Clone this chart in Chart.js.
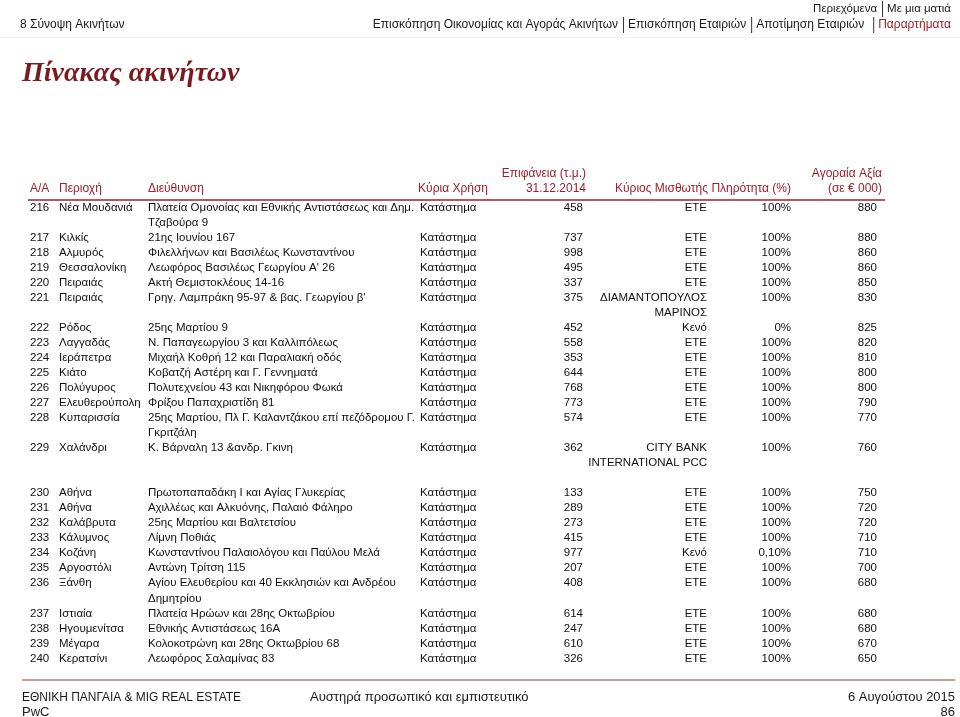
<!DOCTYPE html>
<html>
<head>
<meta charset="utf-8">
<script src="https://cdn.jsdelivr.net/npm/chart.js@4.4.0/dist/chart.umd.min.js"></script>
<style>
  html, body { margin: 0; padding: 0; background: #fff; }
  canvas { display: block; }
</style>
</head>
<body>
<canvas id="chartContainer" width="960" height="717"></canvas>
<script>
// table data, one entry per property
const ids = [216, 217, 218, 219, 220, 221, 222, 223, 224, 225, 226, 227, 228, 229, 230, 231, 232, 233, 234, 235, 236, 237, 238, 239, 240];
const areas = ['Νέα Μουδανιά', 'Κιλκίς', 'Αλμυρός', 'Θεσσαλονίκη', 'Πειραιάς', 'Πειραιάς', 'Ρόδος', 'Λαγγαδάς', 'Ιεράπετρα', 'Κιάτο',
  'Πολύγυρος', 'Ελευθερούπολη', 'Κυπαρισσία', 'Χαλάνδρι', 'Αθήνα', 'Αθήνα', 'Καλάβρυτα', 'Κάλυμνος', 'Κοζάνη', 'Αργοστόλι',
  'Ξάνθη', 'Ιστιαία', 'Ηγουμενίτσα', 'Μέγαρα', 'Κερατσίνι'];
const addresses = [
  'Πλατεία Ομονοίας και Εθνικής Αντιστάσεως και Δημ.\nΤζαβούρα 9',
  '21ης Ιουνίου 167',
  'Φιλελλήνων και Βασιλέως Κωνσταντίνου',
  "Λεωφόρος Βασιλέως Γεωργίου Α' 26",
  'Ακτή Θεμιστοκλέους 14-16',
  "Γρηγ. Λαμπράκη 95-97 & βας. Γεωργίου β'",
  '25ης Μαρτίου 9',
  'Ν. Παπαγεωργίου 3 και Καλλιπόλεως',
  'Μιχαήλ Κοθρή 12 και Παραλιακή οδός',
  'Κοβατζή Αστέρη και Γ. Γεννηματά',
  'Πολυτεχνείου 43 και Νικηφόρου Φωκά',
  'Φρίξου Παπαχριστίδη 81',
  '25ης Μαρτίου, Πλ Γ. Καλαντζάκου επί πεζόδρομου Γ.\nΓκριτζάλη',
  'Κ. Βάρναλη 13 &ανδρ. Γκινη',
  'Πρωτοπαπαδάκη Ι και Αγίας Γλυκερίας',
  'Αχιλλέως και Αλκυόνης, Παλαιό Φάληρο',
  '25ης Μαρτίου και Βαλτετσίου',
  'Λίμνη Ποθιάς',
  'Κωνσταντίνου Παλαιολόγου και Παύλου Μελά',
  'Αντώνη Τρίτση 115',
  'Αγίου Ελευθερίου και 40 Εκκλησιών και Ανδρέου\nΔημητρίου',
  'Πλατεία Ηρώων και 28ης Οκτωβρίου',
  'Εθνικής Αντιστάσεως 16Α',
  'Κολοκοτρώνη και 28ης Οκτωβρίου 68',
  'Λεωφόρος Σαλαμίνας 83'
];
const uses = ['Κατάστημα', 'Κατάστημα', 'Κατάστημα', 'Κατάστημα', 'Κατάστημα', 'Κατάστημα', 'Κατάστημα', 'Κατάστημα', 'Κατάστημα',
  'Κατάστημα', 'Κατάστημα', 'Κατάστημα', 'Κατάστημα', 'Κατάστημα', 'Κατάστημα', 'Κατάστημα', 'Κατάστημα', 'Κατάστημα',
  'Κατάστημα', 'Κατάστημα', 'Κατάστημα', 'Κατάστημα', 'Κατάστημα', 'Κατάστημα', 'Κατάστημα'];
const surfaces = [458, 737, 998, 495, 337, 375, 452, 558, 353, 644, 768, 773, 574, 362, 133, 289, 273, 415, 977, 207, 408, 614, 247, 610, 326];
const tenants = ['ΕΤΕ', 'ΕΤΕ', 'ΕΤΕ', 'ΕΤΕ', 'ΕΤΕ', 'ΔΙΑΜΑΝΤΟΠΟΥΛΟΣ\nΜΑΡΙΝΟΣ', 'Κενό', 'ΕΤΕ', 'ΕΤΕ', 'ΕΤΕ', 'ΕΤΕ', 'ΕΤΕ', 'ΕΤΕ',
  'CITY BANK\nINTERNATIONAL PCC', 'ΕΤΕ', 'ΕΤΕ', 'ΕΤΕ', 'ΕΤΕ', 'Κενό', 'ΕΤΕ', 'ΕΤΕ', 'ΕΤΕ', 'ΕΤΕ', 'ΕΤΕ', 'ΕΤΕ'];
const occupancy = ['100%', '100%', '100%', '100%', '100%', '100%', '0%', '100%', '100%', '100%', '100%', '100%', '100%',
  '100%', '100%', '100%', '100%', '100%', '0,10%', '100%', '100%', '100%', '100%', '100%', '100%'];
const marketValues = [880, 880, 860, 860, 850, 830, 825, 820, 810, 800, 800, 790, 770, 760, 750, 720, 720, 710, 710, 700, 680, 680, 680, 670, 650];

// an empty line is left after this row (page break in the source)
const breakAfter = [229];

const RED = '#9c1f2c';
const DARKRED = '#7a1a1f';
const FONT = '"Liberation Sans", Arial, sans-serif';

// line index of every row
const lineIdx = [];
let line = 0;
ids.forEach((id, i) => {
  lineIdx.push(line);
  const n = Math.max(addresses[i].split('\n').length, tenants[i].split('\n').length);
  line += n;
  if (breakAfter.includes(id)) line += 1;
});
const totalLines = line;

const columns = [
  { label: 'A/A', x: 30, align: 'left', texts: ids.map(String) },
  { label: 'Περιοχή', x: 59, align: 'left', texts: areas },
  { label: 'Διεύθυνση', x: 148, align: 'left', texts: addresses },
  { label: 'Κύρια Χρήση', x: 420, align: 'left', texts: uses },
  { label: 'Επιφάνεια', x: 583, align: 'right', texts: surfaces.map(String) },
  { label: 'Κύριος Μισθωτής', x: 707, align: 'right', texts: tenants },
  { label: 'Πληρότητα', x: 791, align: 'right', texts: occupancy },
  { label: 'Αγοραία Αξία', x: 877, align: 'right', texts: marketValues.map(String) }
];

const headers = [
  { x: 30, align: 'left', lines: ['', 'A/A'] },
  { x: 59, align: 'left', lines: ['', 'Περιοχή'] },
  { x: 148, align: 'left', lines: ['', 'Διεύθυνση'] },
  { x: 488, align: 'right', lines: ['', 'Κύρια Χρήση'] },
  { x: 586, align: 'right', lines: ['Επιφάνεια (τ.μ.)', '31.12.2014'] },
  { x: 708, align: 'right', lines: ['', 'Κύριος Μισθωτής'] },
  { x: 791, align: 'right', lines: ['', 'Πληρότητα (%)'] },
  { x: 882, align: 'right', lines: ['Αγοραία Αξία', '(σε € 000)'] }
];

const cellText = {
  id: 'cellText',
  afterDatasetsDraw(chart) {
    const ctx = chart.ctx;
    const y = chart.scales.y;
    const step = y.getPixelForValue(1) - y.getPixelForValue(0);
    ctx.save();
    ctx.font = '11.5px ' + FONT;
    ctx.fillStyle = '#111';
    ctx.textBaseline = 'middle';
    chart.data.datasets.forEach((ds, di) => {
      const meta = chart.getDatasetMeta(di);
      ctx.textAlign = ds.align;
      meta.data.forEach((el, i) => {
        ds.texts[i].split('\n').forEach((t, k) => {
          ctx.fillText(t, el.x, el.y + k * step);
        });
      });
    });
    ctx.restore();
  }
};

function navLine(ctx, items, right, y) {
  let x = right;
  for (let i = items.length - 1; i >= 0; i--) {
    ctx.fillStyle = items[i].color || '#1a1a1a';
    ctx.fillText(items[i].t, x, y);
    x -= ctx.measureText(items[i].t).width;
    if (i > 0) {
      x -= 5;
      ctx.strokeStyle = '#333';
      ctx.lineWidth = 1;
      ctx.beginPath();
      ctx.moveTo(x + 0.5, y - 8);
      ctx.lineTo(x + 0.5, y + 8);
      ctx.stroke();
      x -= 5 + (items[i - 1].gap || 0);
    }
  }
}

const pageFurniture = {
  id: 'pageFurniture',
  afterDraw(chart) {
    const ctx = chart.ctx;
    const area = chart.chartArea;
    ctx.save();
    ctx.textBaseline = 'middle';

    // navigation bar
    ctx.font = '12px ' + FONT;
    ctx.fillStyle = '#1a1a1a';
    ctx.textAlign = 'left';
    ctx.fillText('8 Σύνοψη Ακινήτων', 20, 25);
    ctx.textAlign = 'right';
    ctx.font = '11.5px ' + FONT;
    navLine(ctx, [{ t: 'Περιεχόμενα' }, { t: 'Με μια ματιά' }], 951, 9);
    ctx.font = '12px ' + FONT;
    navLine(ctx, [{ t: 'Επισκόπηση Οικονομίας και Αγοράς Ακινήτων' }, { t: 'Επισκόπηση Εταιριών' },
      { t: 'Αποτίμηση Εταιριών', gap: 4 }, { t: 'Παραρτήματα', color: RED }], 951, 25);
    ctx.strokeStyle = '#eef2f0';
    ctx.beginPath();
    ctx.moveTo(0, 37.5);
    ctx.lineTo(960, 37.5);
    ctx.stroke();

    // title
    ctx.font = 'italic bold 28px "Liberation Serif", "DejaVu Serif", serif';
    ctx.fillStyle = DARKRED;
    ctx.textAlign = 'left';
    ctx.fillText('Πίνακας ακινήτων', 22, 74);

    // column headers
    ctx.font = '12px ' + FONT;
    ctx.fillStyle = RED;
    headers.forEach(h => {
      ctx.textAlign = h.align;
      h.lines.forEach((t, k) => ctx.fillText(t, h.x, 174 + k * 15));
    });
    ctx.strokeStyle = RED;
    ctx.lineWidth = 1.5;
    ctx.beginPath();
    ctx.moveTo(28, area.top);
    ctx.lineTo(885, area.top);
    ctx.stroke();

    // footer
    ctx.strokeStyle = '#8e3b3b';
    ctx.lineWidth = 1.2;
    ctx.beginPath();
    ctx.moveTo(22, 680);
    ctx.lineTo(955, 680);
    ctx.stroke();
    ctx.font = '13px ' + FONT;
    ctx.fillStyle = '#1a1a1a';
    ctx.textAlign = 'left';
    ctx.fillText('ΕΘΝΙΚΗ ΠΑΝΓΑΙΑ & MIG REAL ESTATE', 22, 697, 219);
    ctx.fillText('PwC', 22, 712);
    ctx.fillText('Αυστηρά προσωπικό και εμπιστευτικό', 310, 697, 225);
    ctx.textAlign = 'right';
    ctx.fillText('6 Αυγούστου 2015', 955, 697, 107);
    ctx.fillText('86', 955, 712);
    ctx.restore();
  }
};

const chartOptions = {
  type: 'scatter',
  data: {
    datasets: columns.map(c => ({
      label: c.label,
      align: c.align,
      texts: c.texts,
      data: lineIdx.map(l => ({ x: c.x, y: l })),
      pointRadius: 0,
      pointHoverRadius: 0
    }))
  },
  options: {
    responsive: false,
    animation: false,
    events: [],
    layout: { padding: { top: 200, bottom: 51, left: 0, right: 0 } },
    scales: {
      x: { type: 'linear', min: 0, max: 960, display: false },
      y: { type: 'linear', min: -0.5, max: totalLines - 0.5, reverse: true, display: false }
    },
    plugins: {
      legend: { display: false },
      tooltip: { enabled: false },
      title: { display: false }
    }
  },
  plugins: [cellText, pageFurniture]
};

new Chart(document.getElementById('chartContainer'), chartOptions);
</script>
</body>
</html>
